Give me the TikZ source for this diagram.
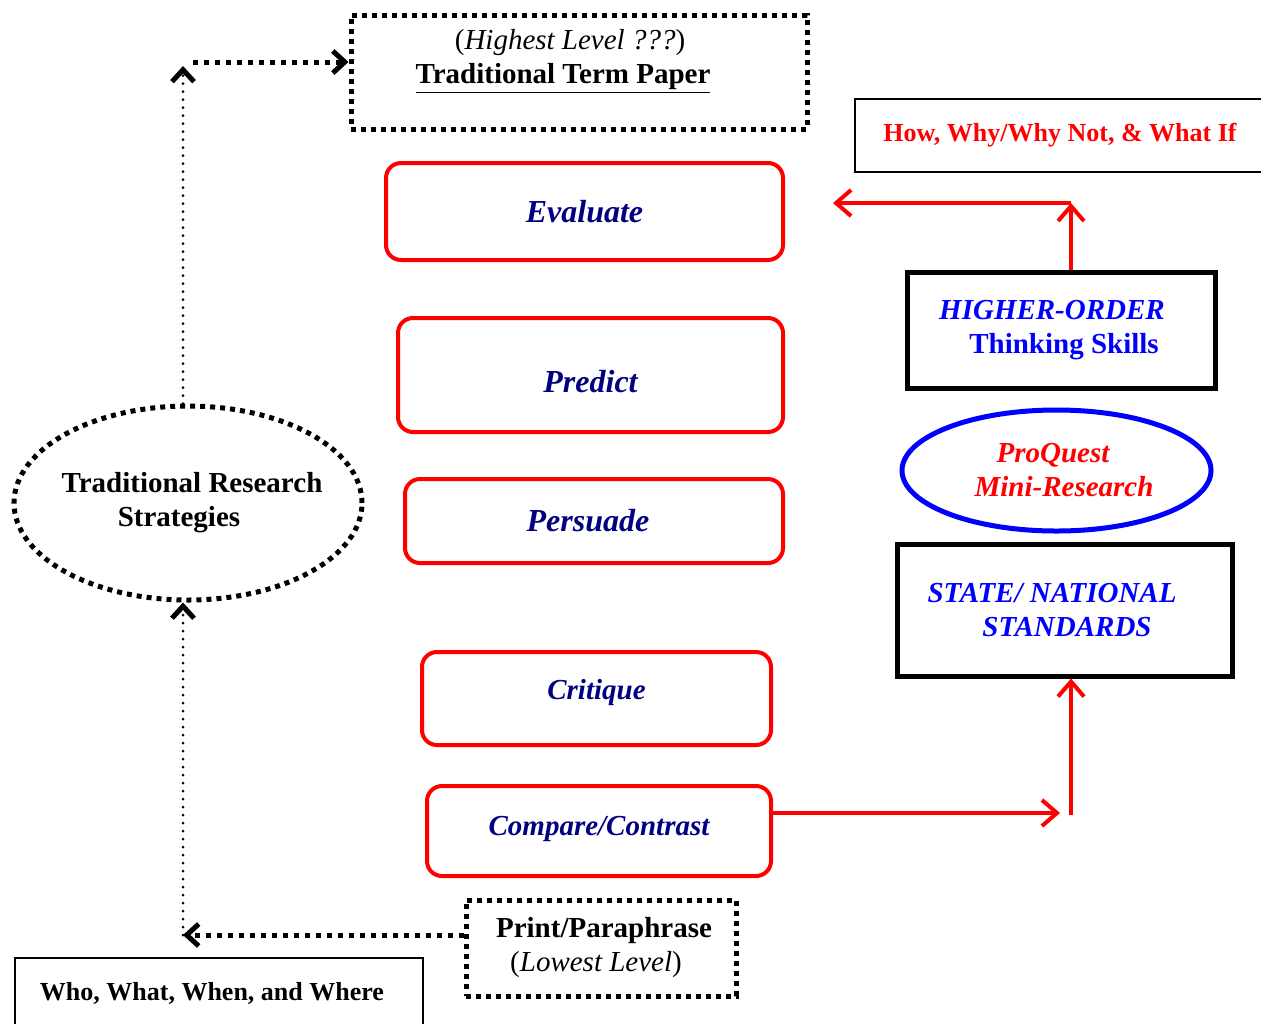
\documentclass[tikz,border=0pt]{standalone}
\usepackage{fontspec}
\setmainfont{Liberation Serif}
\usetikzlibrary{arrows.meta,shapes.geometric}
\definecolor{navy}{RGB}{0,0,128}

\begin{document}
\begin{tikzpicture}[x=0.5pt, y=-0.5pt,
  every node/.style={inner sep=0pt, align=center,
    font=\fontsize{14.5}{17}\selectfont\bfseries},
  redbox/.style={draw=red, line width=2pt, rounded corners=7.5pt, text=navy,
    font=\fontsize{16}{19}\selectfont\bfseries\itshape},
  smallred/.style={font=\fontsize{14.5}{17}\selectfont\bfseries\itshape},
  heavybox/.style={draw, line width=2.5pt, text=blue},
  thinbox/.style={draw, line width=0.8pt, font=\fontsize{13}{16}\selectfont\bfseries},
  dotbox/.style={draw, line width=2.5pt, dash pattern=on 2.5pt off 2.5pt},
  redarrow/.style={red, line width=2pt, -{Straight Barb[length=7.5pt,width=13pt]}},
  dotarrow/.style={line width=1.5pt, line cap=round, dash pattern=on 0pt off 4pt,
    -{Straight Barb[length=6pt,width=11pt,line width=2.5pt]}},
  squarearrow/.style={dotarrow, line cap=butt, line width=2.5pt, dash pattern=on 2.5pt off 3pt}
]
  % page
  \path[use as bounding box, clip] (0,0) rectangle (1261,1023);

  % levels, top to bottom
  \node[dotbox, minimum width=228pt, minimum height=57pt,
    label={[anchor=north, yshift=-8pt]north:{{\mdseries(\textit{Highest Level ???})}\hspace*{9pt}\\
      \underline{Traditional Term Paper}\hspace*{16pt}}}] (term) at (579,72) {};
  \node[redbox, minimum width=198.5pt, minimum height=48.5pt] (evaluate) at (584.5,211.5) {Evaluate};
  \node[redbox, minimum width=192.5pt, minimum height=57pt,
    text height=17pt, text depth=0pt] (predict) at (590.5,375) {Predict};
  \node[redbox, minimum width=189pt, minimum height=42pt] (persuade) at (594,521) {Persuade\hspace*{6pt}};
  \node[redbox, smallred, minimum width=174.5pt, minimum height=46.5pt,
    text height=10pt, text depth=9pt] (critique) at (596.5,698.5) {Critique};
  \node[redbox, smallred, minimum width=172pt, minimum height=45pt,
    text height=10pt, text depth=6pt] (compare) at (599,831) {Compare/Contrast};
  \node[dotbox, minimum width=135pt, minimum height=48pt] (printbox) at (601,948)
    {\hspace*{3pt}Print/Paraphrase\\{\mdseries(\textit{Lowest Level})}\hspace*{5pt}};

  % left side
  \node[dotbox, ellipse, inner xsep=-8pt, minimum width=174pt, minimum height=97pt] (trad) at (188,503)
    {\hspace*{4pt}Traditional Research\\Strategies\hspace*{9pt}};
  \node[thinbox, line width=1pt, minimum width=204pt, minimum height=35pt] (who) at (219,993)
    {Who, What, When, and Where\hspace*{7pt}};

  % right side
  \node[thinbox, text=red, minimum width=205pt, minimum height=36.5pt] (how) at (1060,135.5)
    {How, Why/Why Not, \& What If};
  \node[heavybox, minimum width=154pt, minimum height=58pt] (higher) at (1061,330)
    {\textit{HIGHER-ORDER}\hspace*{9pt}\\\hspace*{3pt}Thinking Skills};
  \node[draw=blue, line width=2.5pt, ellipse, text=red, font=\fontsize{14.5}{17}\selectfont\bfseries\itshape,
    minimum width=154.5pt, minimum height=60.5pt] (proquest) at (1056.5,470.5)
    {ProQuest\hspace*{3.5pt}\\\hspace*{7.5pt}Mini-Research};
  \node[heavybox, font=\fontsize{14.5}{17}\selectfont\bfseries\itshape,
    minimum width=167.5pt, minimum height=66pt] (standards) at (1064.5,610)
    {STATE/ NATIONAL\hspace*{12.5pt}\\\hspace*{2.5pt}STANDARDS};

  % red arrows
  \coordinate (cmpEnd) at (1060,813);
  \coordinate (stdFoot) at (1071,815);
  \coordinate (evalTurn) at (1071,203);
  \coordinate (evalTip) at (833,203);
  \draw[redarrow] (compare.east |- cmpEnd) -- (cmpEnd);
  \draw[redarrow] (stdFoot) -- (stdFoot |- standards.south);
  \draw[redarrow] (evalTurn |- higher.north) -- (evalTurn);
  \draw[redarrow] (evalTurn) -- (evalTip);

  % dotted arrows
  \coordinate (lowTurn) at (183,935);
  \coordinate (highTurn) at (183,66);
  \coordinate (highStart) at (193,62);
  \draw[squarearrow] (printbox.west |- lowTurn) -- (lowTurn);
  \draw[dotarrow] (lowTurn) -- (lowTurn |- trad.south);
  \draw[dotarrow] (highTurn |- trad.north) -- (highTurn);
  \draw[squarearrow] (highStart) -- (highStart -| term.west);
\end{tikzpicture}
\end{document}
